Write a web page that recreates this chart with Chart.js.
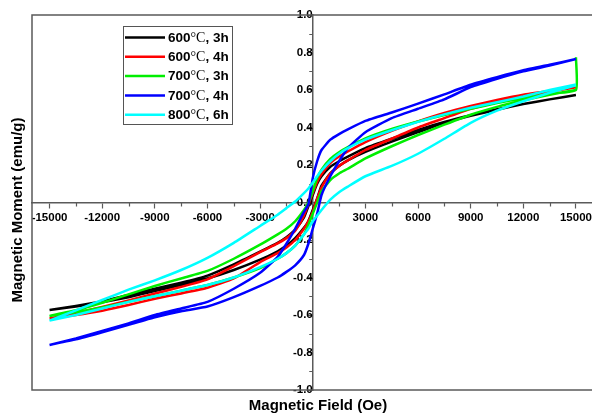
<!DOCTYPE html>
<html><head><meta charset="utf-8">
<script src="https://cdn.jsdelivr.net/npm/chart.js@4.4.1/dist/chart.umd.min.js"></script>
<style>
html,body{margin:0;padding:0;overflow:hidden;background:#fff;width:592px;height:414px}
#wrap{position:relative;width:600px;height:414px}
</style>
</head><body><div id="wrap"><canvas id="c" width="600" height="414"></canvas></div>
<script>
// Field values (Oe) for the descending branch (+15000 -> -15000)
const fieldDown = [15000, 13500, 12000, 10500, 9000, 7500, 6000, 4500, 3000, 2000, 1500, 1000, 500, 250, 0,
  -250, -500, -1000, -1500, -2000, -3000, -4500, -6000, -7500, -9000, -10500, -12000, -13500, -15000];
// Field values for the ascending branch (-15000 -> +15000)
const fieldUp = [-15000, -13500, -12000, -10500, -9000, -7500, -6000, -4500, -3000, -2000, -1500, -1000, -500, -250, 0,
  250, 500, 1000, 1500, 2000, 3000, 4500, 6000, 7500, 9000, 10500, 12000, 13500, 15000];

const seriesLabels = ['600°C, 3h', '600°C, 4h', '700°C, 3h', '700°C, 4h', '800°C, 6h'];
const seriesColors = ['#000000', '#ff0000', '#00ee00', '#0000ff', '#00ffff'];

// Magnetic moment (emu/g) – descending branch / ascending branch
const m600_3h_down = [0.573, 0.55, 0.525, 0.497, 0.466, 0.43, 0.387, 0.34, 0.29, 0.245, 0.22, 0.19, 0.14, 0.10, 0.04,
  -0.02, -0.08, -0.145, -0.185, -0.215, -0.262, -0.33, -0.39, -0.428, -0.46, -0.493, -0.527, -0.552, -0.573];
const m600_3h_up = [-0.573, -0.555, -0.532, -0.505, -0.472, -0.44, -0.405, -0.36, -0.305, -0.26, -0.23, -0.19, -0.135, -0.10, -0.04,
  0.02, 0.09, 0.155, 0.195, 0.225, 0.27, 0.325, 0.375, 0.425, 0.462, 0.495, 0.525, 0.55, 0.573];

const m600_4h_down = [0.614, 0.595, 0.575, 0.547, 0.515, 0.478, 0.433, 0.382, 0.322, 0.272, 0.245, 0.21, 0.15, 0.11, 0.05,
  -0.01, -0.07, -0.15, -0.19, -0.218, -0.265, -0.34, -0.41, -0.45, -0.485, -0.522, -0.557, -0.59, -0.618];
const m600_4h_up = [-0.618, -0.60, -0.577, -0.547, -0.513, -0.485, -0.455, -0.405, -0.318, -0.27, -0.24, -0.20, -0.14, -0.10, -0.05,
  0.02, 0.08, 0.155, 0.195, 0.225, 0.28, 0.34, 0.40, 0.45, 0.50, 0.535, 0.565, 0.59, 0.614];

const m700_3h_down = [0.775, 0.60, 0.58, 0.557, 0.53, 0.50, 0.467, 0.432, 0.392, 0.342, 0.295, 0.268, 0.232, 0.175, 0.13, 0.06,
  0.0, -0.04, -0.10, -0.14, -0.17, -0.225, -0.30, -0.365, -0.405, -0.445, -0.49, -0.535, -0.575, -0.605];
const m700_3h_up = [-0.605, -0.585, -0.56, -0.53, -0.50, -0.47, -0.44, -0.40, -0.35, -0.30, -0.27, -0.23, -0.17, -0.12, -0.06,
  0.0, 0.06, 0.12, 0.155, 0.18, 0.235, 0.30, 0.36, 0.415, 0.468, 0.51, 0.545, 0.575, 0.60];

const m700_4h_down = [0.765, 0.735, 0.705, 0.668, 0.628, 0.577, 0.527, 0.48, 0.435, 0.39, 0.365, 0.335, 0.28, 0.22, 0.13,
  -0.01, -0.05, -0.14, -0.22, -0.29, -0.375, -0.46, -0.53, -0.565, -0.60, -0.645, -0.685, -0.725, -0.76];
const m700_4h_up = [-0.76, -0.73, -0.692, -0.652, -0.612, -0.58, -0.555, -0.505, -0.445, -0.40, -0.37, -0.335, -0.28, -0.22, -0.14,
  -0.06, 0.04, 0.14, 0.22, 0.29, 0.375, 0.45, 0.50, 0.55, 0.615, 0.66, 0.70, 0.73, 0.765];

const m800_6h_down = [0.63, 0.60, 0.565, 0.535, 0.505, 0.47, 0.43, 0.385, 0.335, 0.29, 0.26, 0.22, 0.17, 0.14, 0.105,
  0.075, 0.05, 0.005, -0.03, -0.065, -0.125, -0.215, -0.295, -0.36, -0.415, -0.465, -0.52, -0.575, -0.63];
const m800_6h_up = [-0.63, -0.60, -0.565, -0.53, -0.50, -0.47, -0.44, -0.40, -0.345, -0.30, -0.27, -0.23, -0.17, -0.14, -0.10,
  -0.07, -0.04, 0.015, 0.055, 0.085, 0.14, 0.195, 0.26, 0.34, 0.425, 0.49, 0.54, 0.585, 0.625];

const xTickLabels = [-15000, -12000, -9000, -6000, -3000, 3000, 6000, 9000, 12000, 15000];
const yTickLabels = ['-1.0', '-0.8', '-0.6', '-0.4', '-0.2', '0.0', '0.2', '0.4', '0.6', '0.8', '1.0'];

function loop(down, up, fieldsDown) {
  const pts = [];
  const fd = fieldsDown || fieldDown;
  for (let i = 0; i < down.length; i++) pts.push({x: fd[i], y: down[i]});
  for (let i = 0; i < up.length; i++) pts.push({x: fieldUp[i], y: up[i]});
  return pts;
}
const greenFieldDown = [15000].concat(fieldDown);

const seriesData = [
  loop(m600_3h_down, m600_3h_up),
  loop(m600_4h_down, m600_4h_up),
  loop(m700_3h_down, m700_3h_up, greenFieldDown),
  loop(m700_4h_down, m700_4h_up),
  loop(m800_6h_down, m800_6h_up)
];
const drawOrder = [4, 3, 2, 1, 0];

const AXIS_COLOR = '#5a5a5a';

const framePlugin = {
  id: 'frame',
  beforeDatasetsDraw(chart) {
    const {ctx, chartArea: a} = chart;
    ctx.save();
    ctx.strokeStyle = AXIS_COLOR;
    ctx.lineWidth = 1.5;
    ctx.strokeRect(a.left, a.top, a.right - a.left, a.bottom - a.top);
    const xs = chart.scales.x, ys = chart.scales.y;
    const x0 = xs.getPixelForValue(0), y0 = ys.getPixelForValue(0);
    ctx.lineWidth = 1.2;
    ctx.beginPath();
    for (let v = -13500; v <= 13500; v += 3000) {
      const px = Math.round(xs.getPixelForValue(v)) + 0.5;
      ctx.moveTo(px, y0); ctx.lineTo(px, y0 + 4);
    }
    for (let k = -9; k <= 9; k += 2) {
      const py = Math.round(ys.getPixelForValue(k / 10)) + 0.5;
      ctx.moveTo(x0, py); ctx.lineTo(x0 - 3.5, py);
    }
    ctx.stroke();
    ctx.restore();
  },
  afterDraw(chart) {
    const {ctx} = chart;
    ctx.save();
    ctx.fillStyle = '#000';
    ctx.font = 'bold 15px "Liberation Sans", Arial, sans-serif';
    ctx.textAlign = 'center';
    ctx.textBaseline = 'middle';
    ctx.fillText('Magnetic Field (Oe)', 318, 406);
    ctx.translate(18, 210);
    ctx.rotate(-Math.PI / 2);
    ctx.fillText('Magnetic Moment (emu/g)', 0, 0);
    ctx.restore();

    ctx.save();
    ctx.strokeStyle = '#555';
    ctx.lineWidth = 1;
    ctx.strokeRect(123.5, 26.5, 109, 98);
    const boldFont = 'bold 13.5px "Liberation Sans", Arial, sans-serif';
    const serifFont = '14px "Liberation Serif", "Times New Roman", serif';
    seriesLabels.forEach((lab, i) => {
      const y = 37.5 + i * 19.3;
      ctx.strokeStyle = seriesColors[i];
      ctx.lineWidth = 2.5;
      ctx.beginPath(); ctx.moveTo(125, y); ctx.lineTo(165, y); ctx.stroke();
      const idx = lab.indexOf('°C');
      const parts = [[lab.slice(0, idx), boldFont], ['°C', serifFont], [lab.slice(idx + 2), boldFont]];
      let x = 168;
      ctx.fillStyle = '#000';
      ctx.textBaseline = 'middle';
      ctx.textAlign = 'left';
      parts.forEach(([t, f]) => { ctx.font = f; ctx.fillText(t, x, y + 0.5); x += ctx.measureText(t).width; });
    });
    ctx.restore();
  }
};

new Chart(document.getElementById('c'), {
  type: 'scatter',
  data: {
    datasets: seriesData.map((d, i) => ({
      label: seriesLabels[i],
      data: d,
      showLine: true,
      borderColor: seriesColors[i],
      backgroundColor: seriesColors[i],
      borderWidth: 2.5,
      pointRadius: 0,
      tension: 0.15,
      order: drawOrder[i]
    }))
  },
  options: {
    responsive: false,
    animation: false,
    events: [],
    layout: {padding: {left: 32, top: 15, right: 6.5, bottom: 24}},
    plugins: {legend: {display: false}, tooltip: {enabled: false}},
    scales: {
      x: {
        type: 'linear',
        min: -16000, max: 16000,
        position: {y: 0},
        afterBuildTicks(axis) { axis.ticks = xTickLabels.map(v => ({value: v})); },
        grid: {drawOnChartArea: false, drawTicks: true, tickLength: 5, tickColor: AXIS_COLOR, tickWidth: 1.2},
        border: {display: true, color: AXIS_COLOR, width: 1.5},
        ticks: {
          autoSkip: false, maxRotation: 0, padding: 3,
          color: '#000',
          font: {family: '"Liberation Sans", Arial, sans-serif', size: 11.5, weight: 'bold'},
          callback: v => String(v)
        }
      },
      y: {
        type: 'linear',
        min: -1, max: 1,
        position: {x: 0},
        afterBuildTicks(axis) { axis.ticks = yTickLabels.map(s => ({value: parseFloat(s)})); },
        grid: {drawOnChartArea: false, drawTicks: true, tickLength: 5, tickColor: AXIS_COLOR, tickWidth: 1.2},
        border: {display: true, color: AXIS_COLOR, width: 1.5},
        ticks: {
          autoSkip: false, padding: 7,
          color: '#000',
          font: {family: '"Liberation Sans", Arial, sans-serif', size: 11.5, weight: 'bold'},
          callback: (v, i) => yTickLabels[i]
        }
      }
    }
  },
  plugins: [framePlugin]
});
</script>
</body></html>
